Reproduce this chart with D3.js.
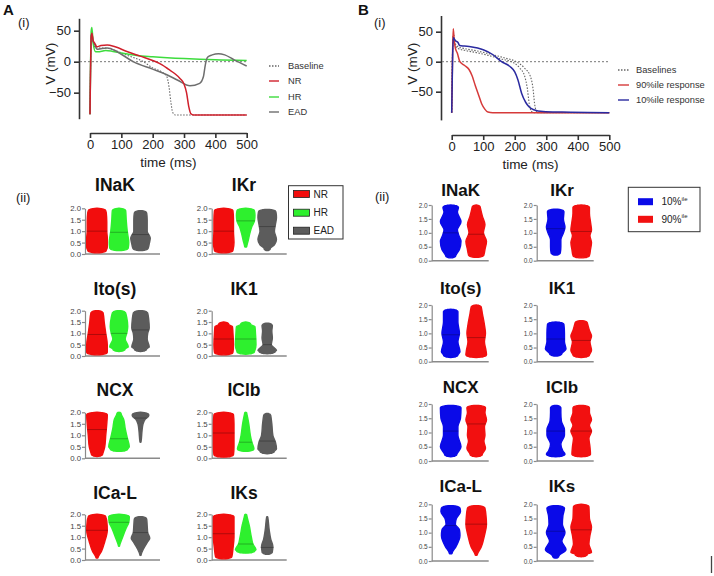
<!DOCTYPE html>
<html><head><meta charset="utf-8">
<script src="https://cdn.jsdelivr.net/npm/d3@7"></script>
<style>
body{margin:0;background:#fff}
svg{display:block}
text{font-family:'Liberation Sans',Arial,Helvetica,sans-serif}
</style>
</head><body>
<svg id="c" width="714" height="576"></svg>
<script>
// ---------------- DATA ----------------
// Panel A(i): action potentials [time ms, V mV]
const apA_Baseline = [[0,-85],[4,40],[6,45],[10,32],[18,22],[30,22],[50,22],[80,18],[120,10],[170,0],[200,-10],[230,-17],[245,-24],[252,-40],[258,-65],[264,-82],[272,-86],[500,-86]];
const apA_NR = [[0,-85],[4,40],[6,46],[10,34],[15,30],[22,24],[35,26],[55,27],[80,24],[120,16],[160,9],[200,2],[230,-5],[250,-12],[270,-19],[287,-27],[300,-36],[308,-50],[315,-72],[322,-84],[330,-86],[500,-86]];
const apA_HR = [[0,-85],[4,50],[6,55],[10,30],[18,16],[25,16],[50,18],[70,17],[100,14],[150,10],[200,8],[300,5],[400,3],[500,2]];
const apA_EAD = [[0,-85],[4,42],[6,45],[10,33],[15,28],[22,20],[35,21],[55,22],[80,18],[100,12],[138,0],[200,-12],[245,-21],[280,-30],[319,-39],[350,-35],[362,-24],[368,-5],[375,7],[390,11],[410,13],[430,11],[460,3],[500,-7]];
const legendA_i = ["Baseline","NR","HR","EAD"];

// Panel B(i)
const apB_Base1 = [[0,-85],[4,40],[6,45],[10,30],[20,22],[40,19],[80,15],[120,10],[160,4],[190,0],[215,-10],[232,-25],[240,-45],[246,-70],[252,-82],[260,-85],[500,-85]];
const apB_Base2 = [[0,-85],[4,40],[6,45],[10,32],[20,25],[40,22],[80,18],[120,13],[170,6],[205,0],[230,-10],[250,-25],[258,-45],[263,-70],[268,-82],[276,-85],[500,-85]];
const apB_90 = [[0,-85],[3,20],[5,55],[8,35],[12,22],[18,14],[26,0],[40,-6],[55,-13],[65,-24],[75,-40],[85,-55],[95,-70],[105,-79],[115,-84],[130,-85],[500,-85]];
const apB_10 = [[0,-85],[3,10],[5,40],[8,38],[12,35],[20,32],[25,27],[40,26],[60,25],[100,20],[130,12],[158,0],[185,-8],[200,-17],[210,-30],[222,-53],[235,-68],[245,-75],[260,-80],[290,-83],[350,-84],[500,-85]];
const legendB_i = ["Baselines","90%ile response","10%ile response"];

const timeTicks = [0,100,200,300,400,500];
const vTicks = [-50,0,50];
const currents = ["INaK","IKr","Ito(s)","IK1","NCX","IClb","ICa-L","IKs"];
const violinTicks = [0,0.5,1,1.5,2];

// Panel A(ii): violin profiles [scale factor, relative width]
const violA_NR = [
 [[0.05,0.9],[0.3,1],[0.7,1],[1.0,0.95],[1.4,0.95],[1.8,0.9],[2.0,0.85]],
 [[0.05,0.9],[0.5,1],[1.0,0.95],[1.5,0.95],[2.0,0.9]],
 [[0.05,1],[0.5,1],[1.0,0.85],[1.5,0.7],[2.0,0.6]],
 [[0.05,0.9],[0.5,0.95],[1.0,0.9],[1.3,0.85],[1.5,0.5]],
 [[0.08,0.55],[0.5,0.75],[1.0,0.85],[1.5,0.95],[2.0,1.0]],
 [[0.05,0.95],[0.5,1],[1.0,1],[1.5,1],[2.0,0.95]],
 [[0.08,0.1],[0.4,0.45],[0.8,0.75],[1.3,1.0],[1.7,0.95],[2.0,0.85]],
 [[0.05,0.8],[0.5,0.9],[1.0,1],[1.5,1],[2.0,1]]
];
const violA_HR = [
 [[0.15,0.9],[0.5,0.95],[1.0,0.8],[1.5,0.7],[2.0,0.65]],
 [[0.3,0.1],[0.6,0.25],[0.9,0.4],[1.2,0.6],[1.45,0.85],[1.7,0.9],[2.0,0.85]],
 [[0.2,0.6],[0.4,0.9],[0.75,0.6],[1.0,0.75],[1.3,0.85],[1.7,0.75],[2.0,0.65]],
 [[0.08,0.85],[0.5,1],[1.0,0.95],[1.3,0.9],[1.5,0.5]],
 [[0.3,0.85],[0.5,1],[0.9,0.8],[1.3,0.6],[1.7,0.45],[2.0,0.2]],
 [[0.3,0.8],[0.4,1],[0.7,0.6],[1.0,0.45],[1.5,0.3],[2.0,0.1]],
 [[0.6,0.05],[1.0,0.35],[1.4,0.7],[1.65,0.95],[2.0,1]],
 [[0.3,0.9],[0.45,1],[0.7,0.7],[1.0,0.55],[1.5,0.35],[2.0,0.1]]
];
const violA_EAD = [
 [[0.15,0.75],[0.45,0.85],[0.7,0.95],[1.0,0.65],[1.5,0.65],[1.9,0.6]],
 [[0.15,0.3],[0.4,0.7],[0.65,0.9],[1.0,0.7],[1.3,0.8],[1.6,0.9],[1.95,0.85]],
 [[0.2,0.6],[0.4,0.85],[0.75,0.65],[1.0,0.7],[1.25,0.85],[1.6,0.8],[2.0,0.7]],
 [[0.1,0.8],[0.25,0.9],[0.5,0.4],[0.8,0.5],[1.1,0.45],[1.45,0.5]],
 [[0.7,0.05],[1.2,0.15],[1.5,0.25],[1.7,0.45],[1.85,0.8],[2.0,0.8]],
 [[0.2,0.7],[0.4,0.9],[0.7,0.8],[1.0,0.55],[1.5,0.45],[1.95,0.35]],
 [[0.2,0.05],[0.5,0.3],[0.8,0.7],[0.95,0.9],[1.2,0.7],[1.5,0.65],[1.9,0.6]],
 [[0.25,0.5],[0.35,0.8],[0.6,0.55],[0.9,0.35],[1.3,0.2],[1.9,0.05]]
];
const medA_NR = [1.0,1.0,0.95,0.75,1.25,1.1,1.3,1.15];
const medA_HR = [0.95,1.45,1.0,0.75,0.85,0.7,1.65,0.7];
const medA_EAD = [0.85,1.2,1.15,0.5,1.75,0.75,1.2,0.55];
const legendA_ii = ["NR","HR","EAD"];

// Panel B(ii)
const violB_10 = [
 [[0.1,0.5],[0.4,0.85],[0.7,1.0],[0.9,0.8],[1.1,0.65],[1.4,1.0],[1.75,0.65],[2.0,0.75]],
 [[0.2,0.45],[0.5,0.5],[0.75,0.5],[1.0,0.75],[1.2,0.9],[1.5,0.75],[1.85,0.8]],
 [[0.15,0.7],[0.35,0.9],[0.7,0.7],[1.0,0.85],[1.4,0.7],[1.85,0.7]],
 [[0.2,0.6],[0.45,1.0],[0.7,0.85],[1.0,0.85],[1.3,0.9],[1.4,0.8]],
 [[0.15,0.6],[0.5,1.0],[0.9,0.7],[1.2,0.7],[1.5,0.95],[1.95,1.0]],
 [[0.15,0.9],[0.35,0.7],[0.6,0.5],[0.9,0.85],[1.1,0.85],[1.4,0.55],[1.7,0.5],[1.95,0.5]],
 [[0.25,0.15],[0.5,0.5],[0.9,0.9],[1.1,0.85],[1.3,0.45],[1.5,0.55],[1.75,0.95],[1.95,0.9]],
 [[0.1,0.3],[0.4,1.0],[0.7,0.6],[1.0,0.9],[1.3,0.65],[1.6,0.7],[1.95,0.85]]
];
const violB_90 = [
 [[0.12,0.75],[0.4,0.85],[0.7,1.0],[1.0,0.7],[1.3,0.85],[1.6,0.6],[2.0,0.4]],
 [[0.1,0.8],[0.4,0.9],[0.65,1.0],[0.9,0.85],[1.1,1.0],[1.4,0.9],[1.7,0.8],[2.0,0.8]],
 [[0.15,1.0],[0.4,0.95],[0.7,0.8],[1.0,0.9],[1.3,0.8],[1.7,0.6],[2.0,0.5]],
 [[0.15,0.8],[0.4,1.0],[0.7,0.85],[0.9,1.0],[1.1,0.8],[1.45,0.6]],
 [[0.15,0.6],[0.45,0.9],[0.7,0.75],[0.9,0.85],[1.2,0.8],[1.45,1.0],[1.7,0.85],[1.95,0.9]],
 [[0.15,0.9],[0.5,0.85],[0.8,0.75],[1.05,1.0],[1.25,0.8],[1.45,1.0],[1.7,0.8],[1.95,0.8]],
 [[0.2,0.1],[0.5,0.5],[0.9,0.8],[1.3,1.0],[1.6,0.95],[1.95,0.85]],
 [[0.15,0.6],[0.3,1.0],[0.6,0.75],[0.9,0.85],[1.2,1.0],[1.5,0.8],[2.0,0.75]]
];
const medB_10 = [1.0,1.15,0.95,0.8,1.05,1.05,1.25,1.05];
const medB_90 = [0.95,1.05,0.85,0.75,1.3,1.05,1.3,1.1];
const legendB_ii = ["10%","90%"];

// ---------------- DRAW ----------------
const svg = d3.select('#c');
const FONT = "'Liberation Sans',Arial,Helvetica,sans-serif";

function txt(x, y, s, size, opts={}) {
  return svg.append('text').attr('x', x).attr('y', y).text(s)
    .attr('font-size', size).attr('fill', opts.fill || '#222')
    .attr('font-weight', opts.bold ? 'bold' : 'normal')
    .attr('text-anchor', opts.anchor || 'start');
}

function styleAxis(g, color, width, fs, tcol) {
  g.select('.domain').attr('stroke', color).attr('stroke-width', width);
  g.selectAll('.tick line').attr('stroke', color).attr('stroke-width', width);
  g.selectAll('.tick text').attr('fill', tcol).attr('font-size', fs).attr('font-family', FONT);
}

function apPanel(c) {
  const x = d3.scaleLinear([0,500], [c.x0, c.x1]);
  const y = d3.scaleLinear(c.yDom, c.yRange);
  const gy = svg.append('g').attr('transform', `translate(${c.yAxisX},0)`)
    .call(d3.axisLeft(y).tickValues(vTicks).tickSize(5).tickSizeOuter(0).tickPadding(3));
  styleAxis(gy, '#333', 1.6, 13, '#222');
  const gx = svg.append('g').attr('transform', `translate(0,${c.xAxisY})`)
    .call(d3.axisBottom(x).tickValues(timeTicks).tickSize(5).tickSizeOuter(0).tickPadding(2));
  styleAxis(gx, '#333', 1.6, 13, '#222');
  svg.append('line').attr('x1', c.yAxisX + 1).attr('x2', x(500))
    .attr('y1', y(0)).attr('y2', y(0))
    .attr('stroke', '#777').attr('stroke-width', 1).attr('stroke-dasharray', '2,2');
  txt(x(250), c.xAxisY + 34, 'time (ms)', 13.5, {anchor:'middle'});
  svg.append('text').attr('transform', `translate(${c.yAxisX - 24},${y(0)+2}) rotate(-90)`)
    .attr('text-anchor','middle').attr('font-size',13.5).attr('fill','#222').text('V (mV)');
  const line = d3.line().x(d => x(d[0])).y(d => y(d[1])).curve(d3.curveMonotoneX);
  c.series.forEach(s => {
    svg.append('path').attr('d', line(s.data)).attr('fill','none')
      .attr('stroke', s.color).attr('stroke-width', s.w || 1.5)
      .attr('stroke-dasharray', s.dash || null).attr('stroke-linejoin','round');
  });
  c.legend.forEach((l, i) => {
    const ly = c.legY[i];
    svg.append('line').attr('x1', c.legX).attr('x2', c.legX + c.legLen)
      .attr('y1', ly).attr('y2', ly).attr('stroke', l.color).attr('stroke-width', 1.4)
      .attr('stroke-dasharray', l.dash || null);
    txt(c.legTextX, ly + 3.3, l.name, 9.3, {fill:'#333'});
  });
}

apPanel({
  x0: 90, x1: 246.7, yDom: [-92, 70], yRange: [118.7, 18.3], yAxisX: 79, xAxisY: 133,
  series: [
    {data: apA_Baseline, color: '#666', dash: '1.5,1.5', w: 1.1},
    {data: apA_HR, color: '#3ddc3d'},
    {data: apA_EAD, color: '#6e6e6e'},
    {data: apA_NR, color: '#d0202c'}
  ],
  legend: [
    {name: legendA_i[0], color: '#666', dash: '1.5,1.5'},
    {name: legendA_i[1], color: '#d0202c'},
    {name: legendA_i[2], color: '#3ddc3d'},
    {name: legendA_i[3], color: '#6e6e6e'}
  ],
  legX: 269, legLen: 10, legTextX: 288, legY: [66, 81, 97, 112]
});

apPanel({
  x0: 451.7, x1: 609.3, yDom: [-97, 77], yRange: [119.9, 15.5], yAxisX: 441, xAxisY: 135,
  series: [
    {data: apB_Base1, color: '#666', dash: '1.5,1.5', w: 1.1},
    {data: apB_Base2, color: '#666', dash: '1.5,1.5', w: 1.1},
    {data: apB_90, color: '#d63a3a'},
    {data: apB_10, color: '#2a2aa0'}
  ],
  legend: [
    {name: legendB_i[0], color: '#666', dash: '1.5,1.5'},
    {name: legendB_i[1], color: '#d63a3a'},
    {name: legendB_i[2], color: '#2a2aa0'}
  ],
  legX: 618, legLen: 11, legTextX: 636, legY: [70, 85, 100]
});

// panel letters
txt(3, 15, 'A', 15, {bold:true, fill:'#111'});
txt(18, 27, '(i)', 13, {fill:'#222'});
txt(358, 15, 'B', 15, {bold:true, fill:'#111'});
txt(374, 27, '(i)', 13, {fill:'#222'});
txt(16, 202, '(ii)', 13, {fill:'#222'});
txt(375, 201, '(ii)', 13, {fill:'#222'});

function widthAt(prof, v) {
  if (v <= prof[0][0]) return prof[0][1];
  for (let i = 1; i < prof.length; i++) {
    if (v <= prof[i][0]) {
      const t = (v - prof[i-1][0]) / (prof[i][0] - prof[i-1][0]);
      return prof[i-1][1] + t * (prof[i][1] - prof[i-1][1]);
    }
  }
  return prof[prof.length-1][1];
}

// build outline in pixel space with rounded end caps: [py, halfwidth px]
function outline(prof, vs, hw) {
  const pts = prof.map(d => [vs(d[0]), d[1] * hw]);
  const n = pts.length, N = 6;
  const [yb, wb] = pts[0], [yt, wt] = pts[n-1];
  const rb = Math.min(2.6, wb * 0.7), rt = Math.min(2.6, wt * 0.7);
  const out = [];
  for (let k = 0; k <= N; k++) {
    const th = k / N * Math.PI / 2;
    out.push([yb - rb + rb * Math.cos(th), wb * Math.sin(th)]);
  }
  pts.slice(1, n-1).forEach(p => { if (p[0] < yb - rb - 0.5 && p[0] > yt + rt + 0.5) out.push(p); });
  for (let k = N; k >= 0; k--) {
    const th = k / N * Math.PI / 2;
    out.push([yt + rt - rt * Math.cos(th), wt * Math.sin(th)]);
  }
  return out;
}

function violinGrid(c) {
  currents.forEach((name, i) => {
    const row = Math.floor(i / 2), col = i % 2;
    const ax = c.axisX[col], y2 = c.y2[row], y0 = c.y0[row];
    const vs = d3.scaleLinear([0, 2], [y0, y2]);
    txt(c.titleX[col], c.titleY[row] + 6, name, c.titleFs, {bold:true, anchor:'middle', fill:'#111'});
    const g = svg.append('g').attr('transform', `translate(${ax},0)`)
      .call(d3.axisLeft(vs).tickValues(violinTicks).tickFormat(d3.format('.1f'))
        .tickSize(3).tickSizeOuter(0).tickPadding(1));
    styleAxis(g, '#8a8a8a', 1.2, c.tickFs, '#444');
    svg.append('line').attr('x1', ax).attr('x2', ax + c.axisLen)
      .attr('y1', y0).attr('y2', y0).attr('stroke', '#8a8a8a').attr('stroke-width', 1.5);
    c.groups.forEach((grp, k) => {
      const cx = ax + c.offsets[k];
      const prof = grp.profiles[i];
      const area = d3.area().y(d => d[0])
        .x0(d => cx - d[1]).x1(d => cx + d[1])
        .curve(d3.curveMonotoneY);
      svg.append('path').attr('d', area(outline(prof, vs, c.hw))).attr('fill', grp.color)
        .attr('stroke', grp.color).attr('stroke-width', 1.4).attr('stroke-linejoin','round');
      const m = grp.medians[i], wm = widthAt(prof, m) * c.hw + 0.5;
      svg.append('line').attr('x1', cx - wm).attr('x2', cx + wm)
        .attr('y1', vs(m)).attr('y2', vs(m))
        .attr('stroke', 'rgba(0,0,0,0.35)').attr('stroke-width', 0.8);
    });
  });
}

violinGrid({
  axisX: [85, 211.7], axisLen: 75, y2: [208.3, 310.7, 412.3, 514.3], y0: [254, 356, 458.3, 560],
  titleX: [115, 244], titleY: [185, 289, 390, 493.3], titleFs: 17.5, tickFs: 7.8,
  offsets: [12, 34, 55.5], hw: 10.3,
  groups: [
    {profiles: violA_NR, medians: medA_NR, color: '#f20d0d'},
    {profiles: violA_HR, medians: medA_HR, color: '#2ef02e'},
    {profiles: violA_EAD, medians: medA_EAD, color: '#5c5c5c'}
  ]
});

violinGrid({
  axisX: [431.7, 536.7], axisLen: 57, y2: [205, 305, 404, 504.3], y0: [260.7, 361.7, 461, 561],
  titleX: [460.7, 562], titleY: [190, 288.3, 386.7, 486], titleFs: 17, tickFs: 6.5,
  offsets: [19, 44.5], hw: 10.3,
  groups: [
    {profiles: violB_10, medians: medB_10, color: '#0a0ae8'},
    {profiles: violB_90, medians: medB_90, color: '#f21010'}
  ]
});

// legend A(ii)
svg.append('rect').attr('x', 288.5).attr('y', 185.7).attr('width', 54.5).attr('height', 53.3)
  .attr('fill', '#fff').attr('stroke', '#333').attr('stroke-width', 1);
[['#f20d0d', 194], ['#2ef02e', 212.7], ['#5c5c5c', 230.7]].forEach((d, i) => {
  svg.append('rect').attr('x', 293.5).attr('y', d[1] - 3.5).attr('width', 16).attr('height', 7)
    .attr('fill', d[0]).attr('stroke', '#222').attr('stroke-width', 0.8);
  txt(313.5, d[1] + 3.6, legendA_ii[i], 10, {fill:'#222'});
});

// legend B(ii)
svg.append('rect').attr('x', 628.3).attr('y', 187.3).attr('width', 71.7).attr('height', 44.4)
  .attr('fill', '#fff').attr('stroke', '#333').attr('stroke-width', 1);
[['#0a0ae8', 201.7], ['#f21010', 219.3]].forEach((d, i) => {
  svg.append('rect').attr('x', 638).attr('y', d[1] - 3.5).attr('width', 15).attr('height', 7)
    .attr('fill', d[0]);
  const t = txt(661.5, d[1] + 3.6, legendB_ii[i], 10, {fill:'#222'});
  t.append('tspan').attr('dy', -4.5).attr('font-size', 6).text('ile');
});

// small mark at bottom right
svg.append('line').attr('x1', 711.5).attr('x2', 711.5).attr('y1', 556).attr('y2', 573)
  .attr('stroke', '#444').attr('stroke-width', 1.3);
</script>
</body></html>
